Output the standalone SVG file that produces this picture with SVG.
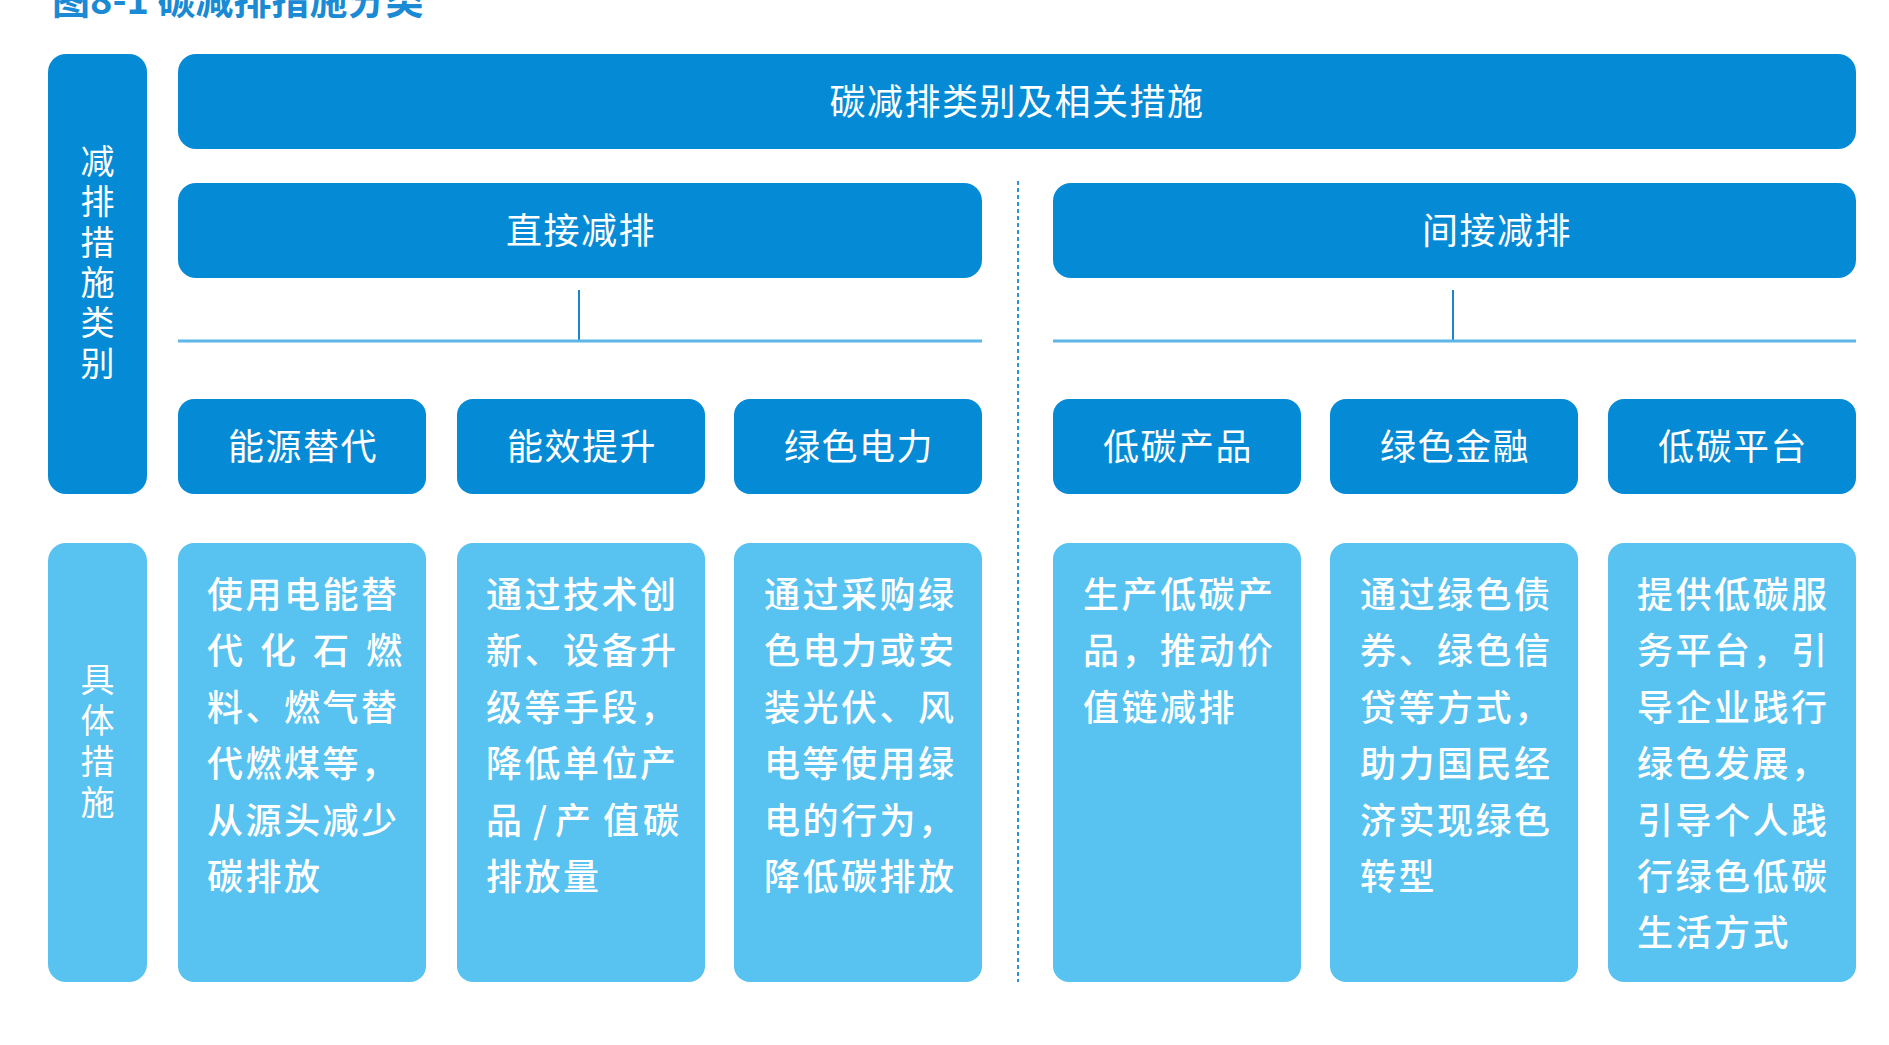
<svg xmlns="http://www.w3.org/2000/svg" width="1889" height="1045" viewBox="0 0 1889 1045">
<style>
.dk{fill:#058bd6}
.lt{fill:#58c2f0}
.t{font-family:"Noto Sans CJK SC","Noto Sans",sans-serif;fill:#ffffff}
.h{font-size:36px;letter-spacing:1.5px;text-anchor:middle}
.v{font-size:34px;text-anchor:middle}
.d{font-size:36px;font-weight:500;letter-spacing:2.5px}
.title{font-family:"Noto Sans CJK SC","Noto Sans",sans-serif;font-size:38px;font-weight:bold;fill:#1a8ad4}
.ln{stroke:#5cb6e6;stroke-width:3;fill:none}
.stub{stroke:#1b86c8;stroke-width:2;fill:none}
.dash{stroke:#2f93d6;stroke-width:2;stroke-dasharray:4 3;fill:none}
</style>
<rect width="1889" height="1045" fill="#ffffff"/>
<text class="title" x="52" y="14">图8-1 碳减排措施分类</text>

<g id="connectors">
<line class="stub" x1="579" y1="290" x2="579" y2="341"/>
<line class="ln" x1="178" y1="341" x2="982" y2="341"/>
<line class="stub" x1="1453" y1="290" x2="1453" y2="341"/>
<line class="ln" x1="1053" y1="341" x2="1856" y2="341"/>
<line class="dash" x1="1018" y1="181" x2="1018" y2="982"/>
</g>

<g id="label-categories">
<rect class="dk" x="48" y="54" width="99" height="440" rx="18"/>
<text class="t v"><tspan x="97.5" y="174">减</tspan><tspan x="97.5" y="214">排</tspan><tspan x="97.5" y="255">措</tspan><tspan x="97.5" y="295">施</tspan><tspan x="97.5" y="335">类</tspan><tspan x="97.5" y="376">别</tspan></text>
</g>
<g id="label-measures">
<rect class="lt" x="48" y="543" width="99" height="439" rx="18"/>
<text class="t v"><tspan x="97.5" y="692">具</tspan><tspan x="97.5" y="733">体</tspan><tspan x="97.5" y="774">措</tspan><tspan x="97.5" y="815">施</tspan></text>
</g>

<g id="root">
<rect class="dk" x="178" y="54" width="1678" height="95" rx="18"/>
<text class="t h" x="1017" y="115">碳减排类别及相关措施</text>
</g>
<g id="direct">
<rect class="dk" x="178" y="183" width="804" height="95" rx="18"/>
<text class="t h" x="581" y="244">直接减排</text>
</g>
<g id="indirect">
<rect class="dk" x="1053" y="183" width="803" height="95" rx="18"/>
<text class="t h" x="1497" y="244">间接减排</text>
</g>

<g id="cat-energy-sub">
<rect class="dk" x="178" y="399" width="248" height="95" rx="16"/>
<text class="t h" x="303" y="460">能源替代</text>
</g>
<g id="cat-efficiency">
<rect class="dk" x="457" y="399" width="248" height="95" rx="16"/>
<text class="t h" x="582" y="460">能效提升</text>
</g>
<g id="cat-green-power">
<rect class="dk" x="734" y="399" width="248" height="95" rx="16"/>
<text class="t h" x="859" y="460">绿色电力</text>
</g>
<g id="cat-lowcarbon-product">
<rect class="dk" x="1053" y="399" width="248" height="95" rx="16"/>
<text class="t h" x="1178" y="460">低碳产品</text>
</g>
<g id="cat-green-finance">
<rect class="dk" x="1330" y="399" width="248" height="95" rx="16"/>
<text class="t h" x="1455" y="460">绿色金融</text>
</g>
<g id="cat-lowcarbon-platform">
<rect class="dk" x="1608" y="399" width="248" height="95" rx="16"/>
<text class="t h" x="1733" y="460">低碳平台</text>
</g>

<g id="desc-energy-sub">
<rect class="lt" x="178" y="543" width="248" height="439" rx="16"/>
<text class="t d">
<tspan x="207" y="608">使用电能替</tspan>
<tspan x="207 260 313 366" y="664">代化石燃</tspan>
<tspan x="207" y="721">料、燃气替</tspan>
<tspan x="207" y="777">代燃煤等，</tspan>
<tspan x="207" y="834">从源头减少</tspan>
<tspan x="207" y="890">碳排放</tspan>
</text>
</g>
<g id="desc-efficiency">
<rect class="lt" x="457" y="543" width="248" height="439" rx="16"/>
<text class="t d">
<tspan x="486" y="608">通过技术创</tspan>
<tspan x="486" y="664">新、设备升</tspan>
<tspan x="486" y="721">级等手段，</tspan>
<tspan x="486" y="777">降低单位产</tspan>
<tspan x="486 533 555 603 643" y="834">品/产值碳</tspan>
<tspan x="486" y="890">排放量</tspan>
</text>
</g>
<g id="desc-green-power">
<rect class="lt" x="734" y="543" width="248" height="439" rx="16"/>
<text class="t d">
<tspan x="764" y="608">通过采购绿</tspan>
<tspan x="764" y="664">色电力或安</tspan>
<tspan x="764" y="721">装光伏、风</tspan>
<tspan x="764" y="777">电等使用绿</tspan>
<tspan x="764" y="834">电的行为，</tspan>
<tspan x="764" y="890">降低碳排放</tspan>
</text>
</g>
<g id="desc-lowcarbon-product">
<rect class="lt" x="1053" y="543" width="248" height="439" rx="16"/>
<text class="t d">
<tspan x="1083" y="608">生产低碳产</tspan>
<tspan x="1083" y="664">品，推动价</tspan>
<tspan x="1083" y="721">值链减排</tspan>
</text>
</g>
<g id="desc-green-finance">
<rect class="lt" x="1330" y="543" width="248" height="439" rx="16"/>
<text class="t d">
<tspan x="1360" y="608">通过绿色债</tspan>
<tspan x="1360" y="664">券、绿色信</tspan>
<tspan x="1360" y="721">贷等方式，</tspan>
<tspan x="1360" y="777">助力国民经</tspan>
<tspan x="1360" y="834">济实现绿色</tspan>
<tspan x="1360" y="890">转型</tspan>
</text>
</g>
<g id="desc-lowcarbon-platform">
<rect class="lt" x="1608" y="543" width="248" height="439" rx="16"/>
<text class="t d">
<tspan x="1637" y="608">提供低碳服</tspan>
<tspan x="1637" y="664">务平台，引</tspan>
<tspan x="1637" y="721">导企业践行</tspan>
<tspan x="1637" y="777">绿色发展，</tspan>
<tspan x="1637" y="834">引导个人践</tspan>
<tspan x="1637" y="890">行绿色低碳</tspan>
<tspan x="1637" y="946">生活方式</tspan>
</text>
</g>
</svg>
